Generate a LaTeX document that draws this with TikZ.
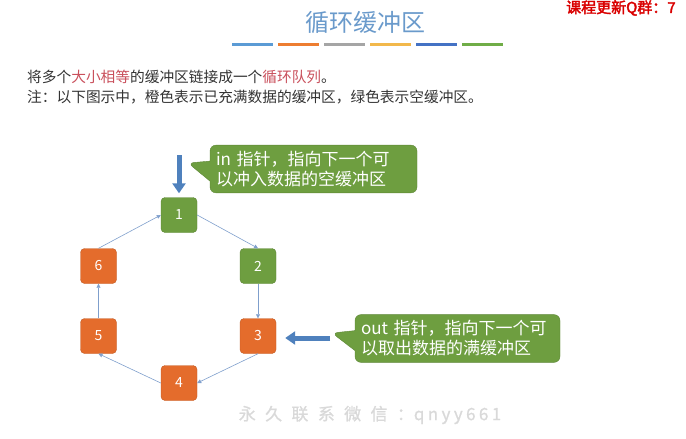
\documentclass[tikz,border=0pt]{standalone}
\usepackage{fontspec}
\setmainfont{Noto Sans CJK SC}
\newfontfamily\boldcjk[FakeBold=2.5]{Noto Sans CJK SC}
\newfontfamily\markfont[LetterSpace=55,FakeBold=1]{Noto Sans CJK SC}
\newfontfamily\marklatin[LetterSpace=20,FakeBold=1]{Noto Sans CJK SC}
\usepackage{xcolor}
\definecolor{titleblue}{HTML}{6A9ACB}
\definecolor{textmain}{HTML}{333333}
\definecolor{hilite}{HTML}{C9505C}
\definecolor{fullorange}{HTML}{E46C2C}
\definecolor{emptygreen}{HTML}{6E9E40}
\definecolor{linkblue}{HTML}{7F9FCC}
\definecolor{ptrblue}{HTML}{4F81BD}
\definecolor{barblue}{HTML}{5B9BD5}
\definecolor{barorange}{HTML}{ED7D31}
\definecolor{bargray}{HTML}{A5A5A5}
\definecolor{bargold}{HTML}{F2B84B}
\definecolor{bardark}{HTML}{4472C4}
\definecolor{bargreen}{HTML}{70AD47}
\usetikzlibrary{arrows.meta, positioning, shapes.callouts}

\begin{document}
\begin{tikzpicture}[
        x=1pt, y=-1pt,
        buf/.style={
            rectangle,
            rounded corners=4pt,
            minimum width=36pt,
            minimum height=35pt,
            inner sep=0pt,
            text=white,
            font=\fontsize{14}{16}\selectfont
        },
        fullbuf/.style={buf, fill=fullorange, draw=fullorange!85!black},
        emptybuf/.style={buf, fill=emptygreen, draw=emptygreen!85!black},
        link/.style={
            -{Triangle[width=4pt,length=4pt]},
            draw=linkblue,
            line width=0.6pt
        },
        pointer/.style={
            -{Triangle[width=13pt,length=10pt]},
            draw=ptrblue,
            line width=5pt
        },
        note/.style={
            rectangle callout,
            rounded corners=6pt,
            fill=emptygreen,
            draw=emptygreen!85!black,
            text=white,
            align=left,
            inner xsep=6pt,
            inner ysep=6pt,
            callout pointer width=20pt,
            font=\fontsize{17}{20}\selectfont
        },
        bar/.style={rectangle, minimum width=41pt, minimum height=3pt, inner sep=0pt}
    ]

    \useasboundingbox (0,0) rectangle (686,439);

    % Title and colour bars
    \node[text=titleblue, font=\fontsize{24}{28}\selectfont] (title) at (365,22) {循环缓冲区};
    \node[bar, fill=barblue] (b1) at (252.5,44) {};
    \node[bar, fill=barorange, right=4.5pt of b1] (b2) {};
    \node[bar, fill=bargray, right=4.5pt of b2] (b3) {};
    \node[bar, fill=bargold, right=4.5pt of b3] (b4) {};
    \node[bar, fill=bardark, right=4.5pt of b4] (b5) {};
    \node[bar, fill=bargreen, right=4.5pt of b5] (b6) {};

    \node[anchor=west, inner sep=0pt, text=red!85!black, font=\boldcjk\fontsize{15}{17}\selectfont] (qun) at (566,8) {课程更新Q群：7};

    % Description
    \node[anchor=west, inner sep=0pt, text=textmain, font=\fontsize{14.7}{18}\selectfont] (line1) at (27,77)
        {将多个\textcolor{hilite}{大小相等}的缓冲区链接成一个\textcolor{hilite}{循环队列}。};
    \node[anchor=west, inner sep=0pt, text=textmain, font=\fontsize{14.7}{18}\selectfont] (line2) at (27,97)
        {注：以下图示中，橙色表示已充满数据的缓冲区，绿色表示空缓冲区。};

    % Ring of buffers
    \node[emptybuf] (n1) at (179,215) {1};
    \node[emptybuf] (n2) at (258,266) {2};
    \node[fullbuf] (n3) at (258,336) {3};
    \node[fullbuf] (n4) at (179,383) {4};
    \node[fullbuf] (n5) at (98.5,336) {5};
    \node[fullbuf] (n6) at (98.5,266) {6};

    \draw[link] (n1.east) -- (n2.north);
    \draw[link] (n2.south) -- (n3.north);
    \draw[link] (n3.south) -- (n4.east);
    \draw[link] (n4.west) -- (n5.south);
    \draw[link] (n5.north) -- (n6.south);
    \draw[link] (n6.north) -- (n1.west);

    % in / out pointers
    \coordinate (intail) at (179,155);
    \draw[pointer, shorten >=4pt] (intail) -- (n1.north);
    \node[note, text width=195pt, callout absolute pointer={(188,163)}] (innote) at (313.5,169)
        {in 指针，指向下一个可\\以冲入数据的空缓冲区};

    \coordinate (outtail) at (330,338);
    \draw[pointer, shorten >=9pt] (outtail) -- (outtail -| n3.east);
    \node[note, text width=193pt, callout absolute pointer={(332,333)}] (outnote) at (457.5,338.5)
        {out 指针，指向下一个可\\以取出数据的满缓冲区};

    % Watermark
    \node[text=gray!30, inner sep=0pt] (mark) at (370,415)
        {{\markfont\fontsize{17}{20}\selectfont 永久联系微信：}{\marklatin\fontsize{17}{20}\selectfont qnyy661}};

\end{tikzpicture}
\end{document}
